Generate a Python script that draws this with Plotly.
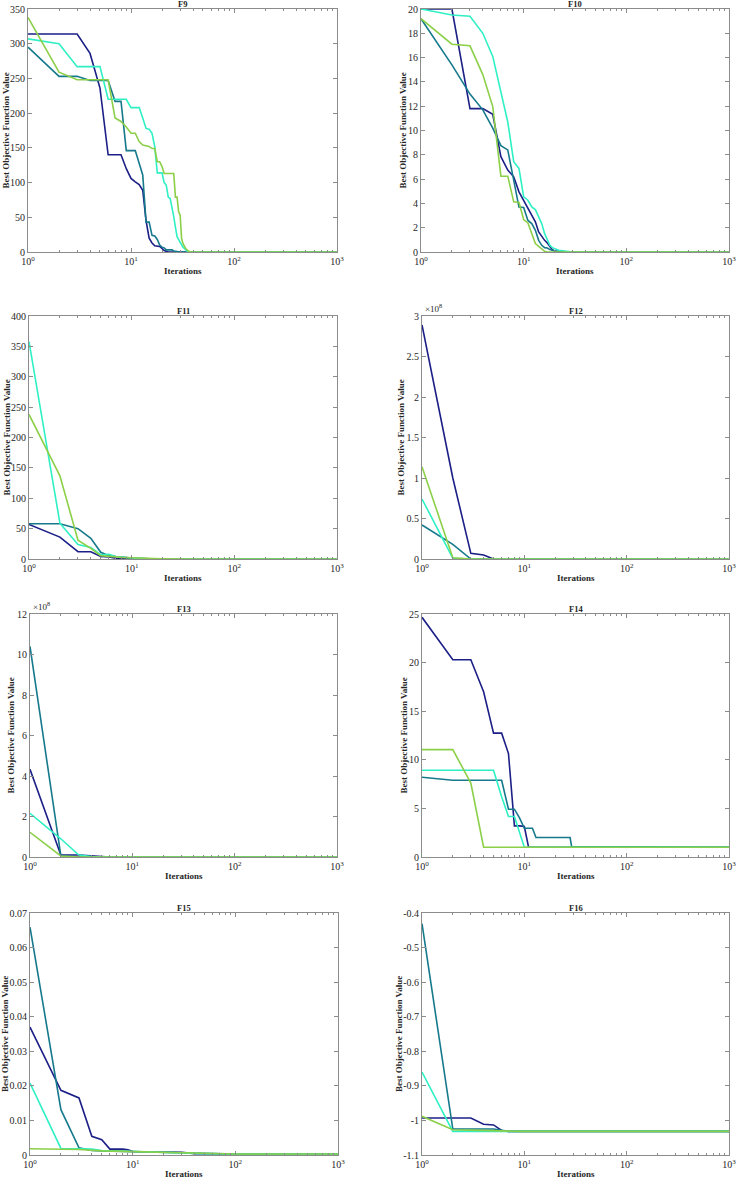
import plotly.graph_objects as go

# ---------------- data (iterations, best objective value) ----------------
# F9
F9_navy_it = [1, 3, 4, 5, 6, 8, 9, 10, 11, 12, 13, 14, 15, 16, 17, 18, 19, 20, 21, 22, 23, 1000]
F9_navy_v = [314, 314, 286, 236, 140, 140, 120, 106, 101, 97, 89, 45, 20, 13, 9, 9, 8, 5, 2, 1, 0, 0]
F9_teal_it = [1, 2, 3, 4, 6, 7, 8, 9, 11, 12, 13, 14, 15, 16, 17, 18, 19, 20, 21, 22, 25, 26, 28, 30, 1000]
F9_teal_v = [295, 253, 253, 247, 247, 217, 217, 146, 146, 128, 111, 43, 43, 24, 23, 18, 10, 7, 6, 3, 3, 1.5, 0.5, 0, 0]
F9_aqua_it = [1, 2, 3, 5, 6, 9, 10, 12, 13, 14, 15, 16, 17, 18, 20, 21, 22, 23, 24, 25, 26, 27, 28, 30, 32, 35, 37, 1000]
F9_aqua_v = [307, 300, 267, 267, 220, 220, 208, 208, 193, 178, 177, 171, 152, 114, 114, 100, 96, 79, 77, 65, 51, 36, 22, 14, 7, 1.5, 0, 0]
F9_green_it = [1, 2, 3, 6, 7, 8, 9, 10, 11, 12, 13, 15, 16, 17, 18, 19, 20, 21, 26, 27, 28, 29, 30, 31, 32, 34, 36, 38, 1000]
F9_green_v = [338, 259, 248, 248, 193, 188, 180, 171, 171, 159, 154, 152, 149, 149, 130, 130, 123, 113, 113, 79, 79, 58, 53, 19, 12, 5, 1.5, 0, 0]

# F10
F10_navy_it = [1, 2, 3, 4, 5, 6, 7, 8, 9, 10, 11, 12, 13, 14, 15, 16, 17, 18, 19, 20, 22, 25, 1000]
F10_navy_v = [20, 20, 11.8, 11.8, 11.33, 7.84, 6.74, 6.19, 4.95, 4.26, 3.58, 3.03, 2.48, 1.65, 1.24, 0.96, 0.74, 0.41, 0.19, 0.08, 0.02, 0, 0]
F10_teal_it = [1, 2, 3, 4, 5, 6, 7, 8, 9, 10, 11, 12, 13, 14, 15, 16, 17, 18, 20, 22, 1000]
F10_teal_v = [19.2, 15.4, 13.0, 11.7, 10.2, 8.75, 8.4, 6.05, 3.7, 3.66, 2.6, 2.34, 1.79, 0.96, 0.55, 0.36, 0.33, 0.2, 0.08, 0, 0]
F10_aqua_it = [1, 2, 3, 4, 5, 6, 7, 8, 9, 10, 11, 12, 13, 14, 15, 16, 17, 18, 19, 20, 22, 25, 30, 1000]
F10_aqua_v = [20, 19.5, 19.4, 18.0, 16.1, 13.3, 10.7, 7.43, 6.88, 4.54, 4.26, 3.71, 3.49, 2.89, 2.34, 1.51, 0.96, 0.55, 0.36, 0.28, 0.14, 0.08, 0, 0]
F10_green_it = [1, 2, 3, 4, 5, 6, 7, 8, 9, 10, 11, 12, 13, 14, 15, 16, 17, 1000]
F10_green_v = [19.2, 17.1, 16.97, 14.6, 11.97, 6.24, 6.24, 4.13, 4.07, 2.67, 2.39, 1.51, 0.69, 0.47, 0.28, 0.06, 0, 0]

# F11
F11_navy_it = [1, 2, 3, 4, 5, 6, 7, 8, 10, 1000]
F11_navy_v = [57, 36, 12, 12, 4, 3.5, 1.5, 0.5, 0, 0]
F11_teal_it = [1, 2, 3, 4, 5, 6, 7, 8, 10, 15, 20, 1000]
F11_teal_v = [58, 58, 50, 34, 11, 5.5, 4, 3, 1.7, 0.5, 0, 0]
F11_aqua_it = [1, 2, 3, 4, 5, 6, 7, 8, 10, 15, 30, 1000]
F11_aqua_v = [358, 59, 24, 19, 7, 7.7, 4, 2.7, 1.6, 0.5, 0, 0]
F11_green_it = [1, 2, 3, 4, 5, 6, 8, 10, 15, 20, 40, 1000]
F11_green_v = [238, 137, 31, 17.5, 5.5, 4, 2.7, 2, 1, 0.5, 0, 0]

# F12
F12_navy_it = [1, 2, 3, 4, 5, 1000]
F12_navy_v = [2.89e8, 1.0e8, 0.07e8, 0.05e8, 0, 0]
F12_teal_it = [1, 2, 3, 1000]
F12_teal_v = [0.42e8, 0.18e8, 0, 0]
F12_aqua_it = [1, 2, 3, 1000]
F12_aqua_v = [0.74e8, 0.01e8, 0, 0]
F12_green_it = [1, 2, 3, 1000]
F12_green_v = [1.14e8, 0.015e8, 0, 0]

# F13
F13_navy_it = [1, 2, 3, 4, 5, 6, 1000]
F13_navy_v = [4.33e8, 0.1e8, 0.1e8, 0.05e8, 0.02e8, 0, 0]
F13_teal_it = [1, 2, 3, 1000]
F13_teal_v = [10.4e8, 0.07e8, 0, 0]
F13_aqua_it = [1, 2, 3, 4, 5, 1000]
F13_aqua_v = [2.16e8, 0.9e8, 0.1e8, 0.02e8, 0, 0]
F13_green_it = [1, 2, 3, 1000]
F13_green_v = [1.22e8, 0.05e8, 0, 0]

# F14
F14_navy_it = [1, 2, 3, 4, 5, 6, 7, 8, 9, 10, 11, 1000]
F14_navy_v = [24.66, 20.3, 20.3, 17.0, 12.74, 12.74, 10.64, 3.2, 3.2, 3.13, 1.0, 1.0]
F14_teal_it = [1, 2, 6, 7, 8, 9, 10, 12, 13, 28, 29, 31, 32, 1000]
F14_teal_v = [8.2, 7.9, 7.9, 4.92, 4.92, 4.0, 2.96, 2.96, 2.0, 2.0, 1.07, 1.07, 1.0, 1.0]
F14_aqua_it = [1, 5, 6, 7, 8, 9, 10, 1000]
F14_aqua_v = [8.92, 8.92, 6.2, 4.17, 4.17, 2.6, 1.0, 1.0]
F14_green_it = [1, 2, 3, 4, 1000]
F14_green_v = [11.05, 11.05, 7.6, 1.0, 1.0]

# F15
F15_navy_it = [1, 2, 3, 4, 5, 6, 8, 9, 10, 30, 40, 100, 1000]
F15_navy_v = [0.0370, 0.0187, 0.0165, 0.0054, 0.0044, 0.0017, 0.0017, 0.0015, 0.0010, 0.0008, 0.0004, 0.0003, 0.0003]
F15_teal_it = [1, 2, 3, 4, 5, 10, 20, 40, 100, 1000]
F15_teal_v = [0.0659, 0.0131, 0.0021, 0.0013, 0.0012, 0.0010, 0.0007, 0.0004, 0.0003, 0.0003]
F15_aqua_it = [1, 2, 3, 4, 5, 10, 20, 50, 100, 1000]
F15_aqua_v = [0.0208, 0.0019, 0.0018, 0.0017, 0.0013, 0.0010, 0.0008, 0.0004, 0.0003, 0.0003]
F15_green_it = [1, 2, 3, 5, 10, 20, 40, 100, 1000]
F15_green_v = [0.0018, 0.0018, 0.0016, 0.0012, 0.0010, 0.0008, 0.0005, 0.0003, 0.0003]

# F16
F16_navy_it = [1, 3, 4, 5, 6, 7, 1000]
F16_navy_v = [-0.993, -0.993, -1.011, -1.013, -1.029, -1.0316, -1.0316]
F16_teal_it = [1, 2, 5, 6, 7, 1000]
F16_teal_v = [-0.431, -1.025, -1.025, -1.029, -1.0316, -1.0316]
F16_aqua_it = [1, 2, 1000]
F16_aqua_v = [-0.860, -1.0316, -1.0316]
F16_green_it = [1, 2, 3, 5, 9, 1000]
F16_green_v = [-0.988, -1.027, -1.028, -1.030, -1.0316, -1.0316]

# tick values / labels
x_tickvals = [1, 10, 100, 1000]
x_ticktext = ["10<sup>0</sup>", "10<sup>1</sup>", "10<sup>2</sup>", "10<sup>3</sup>"]
x_minor = [m * d for d in (1, 10, 100) for m in range(2, 10)]

F9_yt = [0, 50, 100, 150, 200, 250, 300, 350]
F10_yt = [0, 2, 4, 6, 8, 10, 12, 14, 16, 18, 20]
F11_yt = [0, 50, 100, 150, 200, 250, 300, 350, 400]
F12_yt = [0, 0.5e8, 1e8, 1.5e8, 2e8, 2.5e8, 3e8]
F12_ytext = ["0", "0.5", "1", "1.5", "2", "2.5", "3"]
F13_yt = [0, 2e8, 4e8, 6e8, 8e8, 10e8, 12e8]
F13_ytext = ["0", "2", "4", "6", "8", "10", "12"]
F14_yt = [0, 5, 10, 15, 20, 25]
F15_yt = [0, 0.01, 0.02, 0.03, 0.04, 0.05, 0.06, 0.07]
F15_ytext = ["0", "0.01", "0.02", "0.03", "0.04", "0.05", "0.06", "0.07"]
F16_yt = [-1.1, -1.0, -0.9, -0.8, -0.7, -0.6, -0.5, -0.4]
F16_ytext = ["-1.1", "-1", "-0.9", "-0.8", "-0.7", "-0.6", "-0.5", "-0.4"]

# ---------------- layout helpers ----------------
W, H = 737, 1181
FONT = "Liberation Serif, Times New Roman, serif"
AXC = "#8c8c8c"
TXT = "#262626"
colors = {"navy": "#1b1f86", "teal": "#16798c", "aqua": "#2ff0c4", "green": "#8ccf48"}


def px(xw):
    return xw / W


def py(yw):
    return 1 - yw / H


panels = [
    dict(name="F9", data=[(F9_navy_it, F9_navy_v), (F9_teal_it, F9_teal_v), (F9_aqua_it, F9_aqua_v), (F9_green_it, F9_green_v)],
         yr=[0, 350], yt=F9_yt, ytext=[str(v) for v in F9_yt], box=(28, 337, 9, 252), ytx=6, exp=False),
    dict(name="F10", data=[(F10_navy_it, F10_navy_v), (F10_teal_it, F10_teal_v), (F10_aqua_it, F10_aqua_v), (F10_green_it, F10_green_v)],
         yr=[0, 20], yt=F10_yt, ytext=[str(v) for v in F10_yt], box=(421, 729, 9, 252), ytx=403, exp=False),
    dict(name="F11", data=[(F11_navy_it, F11_navy_v), (F11_teal_it, F11_teal_v), (F11_aqua_it, F11_aqua_v), (F11_green_it, F11_green_v)],
         yr=[0, 400], yt=F11_yt, ytext=[str(v) for v in F11_yt], box=(29, 337, 316, 559), ytx=7, exp=False),
    dict(name="F12", data=[(F12_navy_it, F12_navy_v), (F12_teal_it, F12_teal_v), (F12_aqua_it, F12_aqua_v), (F12_green_it, F12_green_v)],
         yr=[0, 3e8], yt=F12_yt, ytext=F12_ytext, box=(422, 729, 316, 559), ytx=401, exp=True),
    dict(name="F13", data=[(F13_navy_it, F13_navy_v), (F13_teal_it, F13_teal_v), (F13_aqua_it, F13_aqua_v), (F13_green_it, F13_green_v)],
         yr=[0, 12e8], yt=F13_yt, ytext=F13_ytext, box=(30, 337, 614, 857), ytx=11, exp=True),
    dict(name="F14", data=[(F14_navy_it, F14_navy_v), (F14_teal_it, F14_teal_v), (F14_aqua_it, F14_aqua_v), (F14_green_it, F14_green_v)],
         yr=[0, 25], yt=F14_yt, ytext=[str(v) for v in F14_yt], box=(422, 729, 614, 857), ytx=404, exp=False),
    dict(name="F15", data=[(F15_navy_it, F15_navy_v), (F15_teal_it, F15_teal_v), (F15_aqua_it, F15_aqua_v), (F15_green_it, F15_green_v)],
         yr=[0, 0.07], yt=F15_yt, ytext=F15_ytext, box=(30, 338, 913, 1155), ytx=5, exp=False),
    dict(name="F16", data=[(F16_navy_it, F16_navy_v), (F16_teal_it, F16_teal_v), (F16_aqua_it, F16_aqua_v), (F16_green_it, F16_green_v)],
         yr=[-1.1, -0.4], yt=F16_yt, ytext=F16_ytext, box=(422, 729, 913, 1155), ytx=399, exp=False),
]

fig = go.Figure()
layout = dict(
    width=W, height=H, margin=dict(l=0, r=0, t=0, b=0, pad=0, autoexpand=False),
    paper_bgcolor="white", plot_bgcolor="white", showlegend=False,
    font=dict(family=FONT, size=10, color=TXT),
)
annotations = []
series_names = ["navy", "teal", "aqua", "green"]

for i, p in enumerate(panels):
    k = i + 1
    xa = "xaxis" if k == 1 else f"xaxis{k}"
    ya = "yaxis" if k == 1 else f"yaxis{k}"
    xr = "x" if k == 1 else f"x{k}"
    yr = "y" if k == 1 else f"y{k}"
    x0, x1, y0, y1 = p["box"]
    for (its, vals), sname in zip(p["data"], series_names):
        fig.add_trace(go.Scatter(x=its, y=vals, mode="lines", xaxis=xr, yaxis=yr,
                                 line=dict(color=colors[sname], width=1.6), name=sname,
                                 hoverinfo="skip"))
    layout[xa] = dict(
        type="log", range=[0, 3], domain=[px(x0), px(x1)], anchor=yr, automargin=False,
        showgrid=False, zeroline=False, showline=True, linecolor=AXC, linewidth=1,
        mirror="ticks", ticks="inside", ticklen=4, tickcolor=AXC, tickwidth=1,
        tickmode="array", tickvals=x_tickvals, ticktext=x_ticktext,
        ticklabeloverflow="allow",
        tickfont=dict(family=FONT, size=10, color=TXT),
        minor=dict(tickmode="array", tickvals=x_minor, ticks="inside", ticklen=2,
                   tickcolor=AXC, tickwidth=1, showgrid=False),
    )
    layout[ya] = dict(
        range=p["yr"], domain=[py(y1), py(y0)], anchor=xr, automargin=False,
        showgrid=False, zeroline=False, showline=True, linecolor=AXC, linewidth=1,
        mirror="ticks", ticks="inside", ticklen=4, tickcolor=AXC, tickwidth=1,
        tickmode="array", tickvals=p["yt"], ticktext=p["ytext"],
        ticklabeloverflow="allow",
        tickfont=dict(family=FONT, size=10, color=TXT),
    )
    # title
    annotations.append(dict(text="<b>%s</b>" % p["name"], x=px((x0 + x1) / 2), y=py(y0 - 5),
                            xref="paper", yref="paper", xanchor="center", yanchor="middle",
                            showarrow=False, font=dict(family=FONT, size=8.5, color=TXT)))
    # x label
    annotations.append(dict(text="<b>Iterations</b>", x=px((x0 + x1) / 2), y=py(y1 + 19),
                            xref="paper", yref="paper", xanchor="center", yanchor="middle",
                            showarrow=False, font=dict(family=FONT, size=9, color=TXT)))
    # y label
    annotations.append(dict(text="<b>Best Objective Function Value</b>", x=px(p["ytx"]),
                            y=py((y0 + y1) / 2), xref="paper", yref="paper",
                            xanchor="center", yanchor="middle", textangle=-90,
                            showarrow=False, font=dict(family=FONT, size=9, color=TXT)))
    if p["exp"]:
        annotations.append(dict(text="×10<sup>8</sup>", x=px(x0 + 1), y=py(y0),
                                xref="paper", yref="paper", xanchor="left", yanchor="bottom",
                                showarrow=False, font=dict(family=FONT, size=9, color=TXT)))

layout["annotations"] = annotations
fig.update_layout(**layout)
fig.write_html("out.html", config={"displayModeBar": False},
               post_script="document.body.style.margin='0px';document.body.style.overflow='hidden';")
